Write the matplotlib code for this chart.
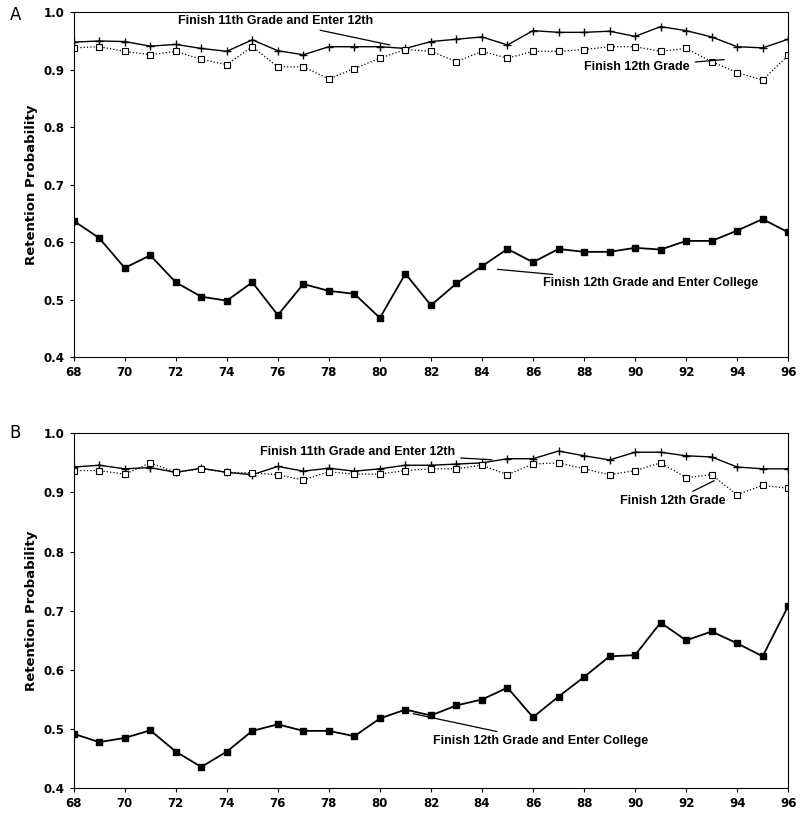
import matplotlib.pyplot as plt

years = list(range(68, 97))

a_11th = [.948, .950, .949, .941, .944, .937, .932, .952, .933, .926, .940, .940, .940, .937, .949,
          .953, .957, .943, .968, .965, .965, .967, .958, .975, .968, .957, .940, .938, .953]
a_12th = [.938, .940, .932, .926, .932, .918, .909, .940, .905, .905, .884, .902, .920, .935, .932,
          .914, .932, .920, .932, .932, .935, .940, .940, .932, .937, .914, .895, .882, .925]
a_coll = [.637, .607, .555, .577, .530, .505, .498, .530, .473, .527, .515, .510, .468, .545, .490,
          .528, .558, .588, .565, .588, .583, .583, .590, .587, .602, .602, .620, .640, .617]

b_11th = [.943, .946, .940, .942, .934, .941, .934, .930, .944, .936, .941, .936, .940, .946, .946,
          .948, .950, .957, .957, .970, .962, .955, .968, .968, .962, .960, .943, .940, .940]
b_12th = [.937, .937, .931, .950, .934, .940, .934, .933, .930, .921, .935, .931, .931, .937, .940,
          .940, .946, .930, .948, .950, .940, .930, .937, .950, .925, .930, .896, .912, .907]
b_coll = [.492, .478, .485, .498, .462, .436, .462, .497, .508, .497, .497, .488, .518, .533, .523,
          .540, .550, .570, .520, .555, .588, .623, .625, .680, .650, .665, .645, .623, .708]

fig = plt.figure(figsize=(8.01, 8.16), dpi=100)
axA = fig.add_axes([0.092, 0.5625, 0.892, 0.4225])
axB = fig.add_axes([0.092, 0.034, 0.892, 0.435])

def draw(ax, s11, s12, sc, notes):
    ax.plot(years, s11, color='black', lw=1.0, marker='+', ms=6, mew=1)
    ax.plot(years, s12, color='black', lw=0.9, ls=':', marker='s', ms=4.5,
            mfc='white', mec='black', mew=0.8)
    ax.plot(years, sc, color='black', lw=1.3, marker='s', ms=4.5)
    ax.set_xlim(68, 96)
    ax.set_ylim(0.4, 1.0)
    ax.set_xticks(range(68, 97, 2))
    ax.set_yticks([0.4, 0.5, 0.6, 0.7, 0.8, 0.9, 1.0])
    ax.set_yticklabels(['0.4', '0.5', '0.6', '0.7', '0.8', '0.9', '1.0'])
    ax.tick_params(labelsize=8.5, length=3)
    for lab in ax.get_xticklabels() + ax.get_yticklabels():
        lab.set_fontweight('bold')
    ax.set_ylabel('Retention Probability', fontsize=9.5, fontweight='bold')
    for txt, xy, xyt in notes:
        ax.annotate(txt, xy=xy, xytext=xyt, ha='left', va='center', fontsize=9,
                    fontfamily='Liberation Sans', fontweight='bold',
                    arrowprops=dict(arrowstyle='-', lw=0.9, color='black'))

draw(axA, a_11th, a_12th, a_coll, [
    ('Finish 11th Grade and Enter 12th', (80.5, 0.942), (72.1, 0.985)),
    ('Finish 12th Grade', (93.6, 0.918), (88.0, 0.905)),
    ('Finish 12th Grade and Enter College', (84.5, 0.553), (86.4, 0.528)),
])
draw(axB, b_11th, b_12th, b_coll, [
    ('Finish 11th Grade and Enter 12th', (84.5, 0.955), (75.3, 0.968)),
    ('Finish 12th Grade', (93.2, 0.922), (89.4, 0.885)),
    ('Finish 12th Grade and Enter College', (81.2, 0.527), (82.1, 0.480)),
])

fig.text(0.012, 0.975, 'A', fontsize=12)
fig.text(0.012, 0.463, 'B', fontsize=12)

fig.savefig('out.png', dpi=100)
